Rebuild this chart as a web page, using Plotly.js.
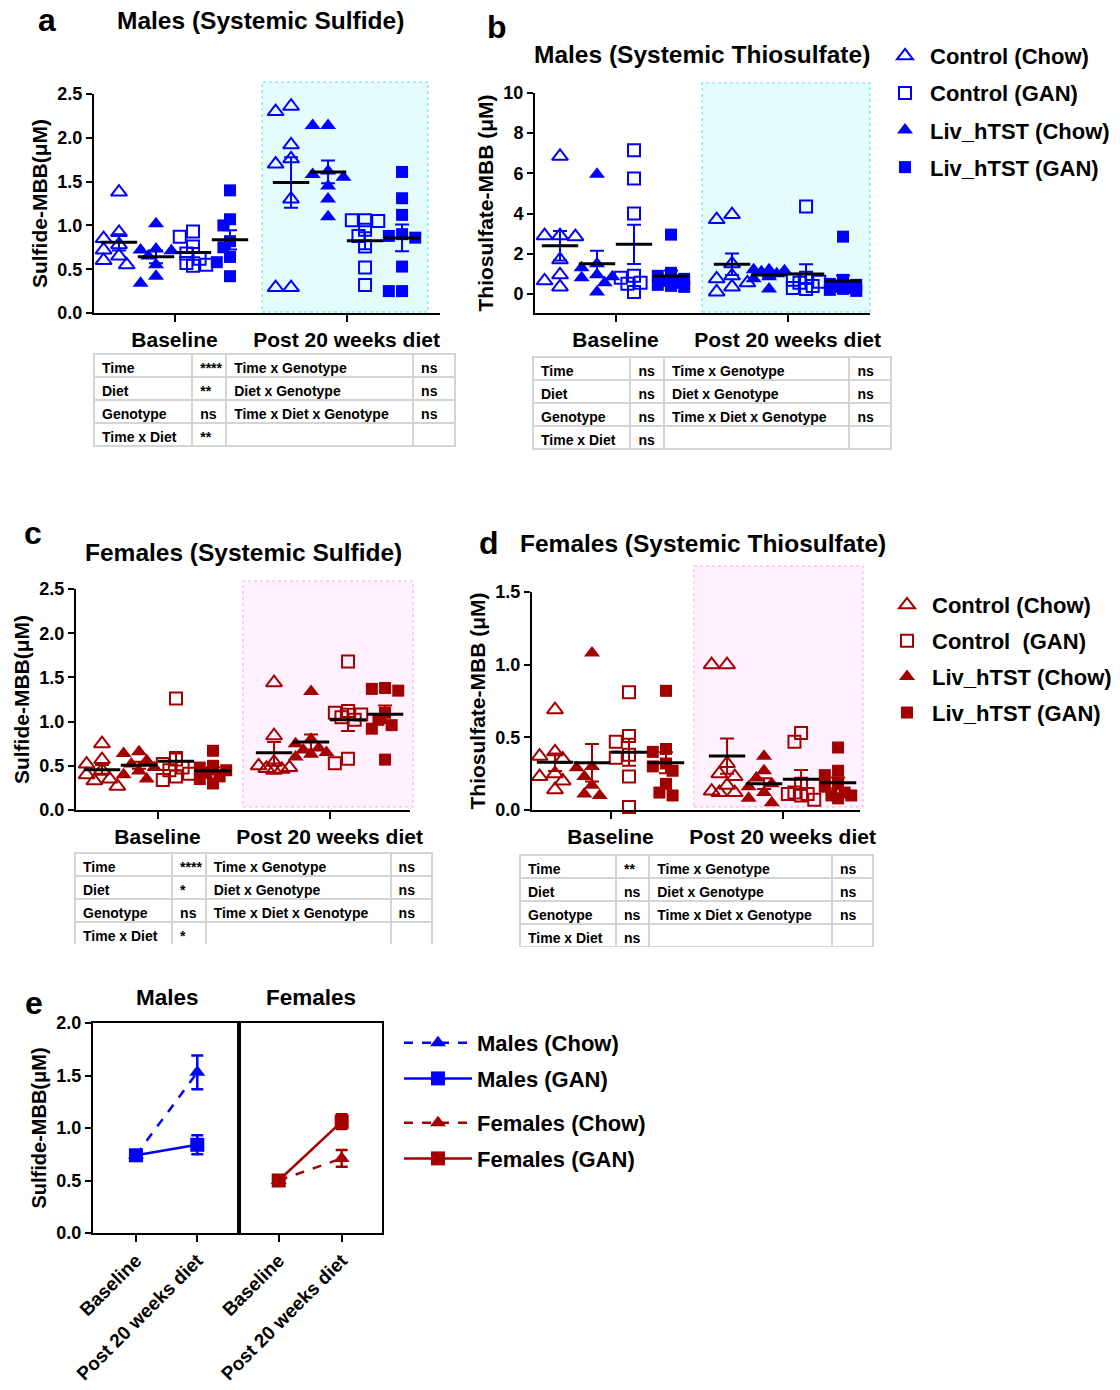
<!DOCTYPE html>
<html>
<head>
<meta charset="utf-8">
<script src="https://cdn.plot.ly/plotly-3.0.1.min.js"></script>
<style>html,body{margin:0;padding:0;background:#fff;}#chart{width:1120px;height:1390px;}</style>
</head>
<body>
<div id="chart"></div>
<script>
// ---------------- DATA ----------------
const groupNames = ['Control (Chow)', 'Liv_hTST (Chow)', 'Control (GAN)', 'Liv_hTST (GAN)'];
const timeLabels = ['Baseline', 'Post 20 weeks diet'];

// a: Males (Systemic Sulfide)
const mSulf_base_ctrlChow = [1.38, 0.92, 0.85, 0.78, 0.72, 0.65, 0.60, 0.55];
const mSulf_base_livChow  = [1.02, 0.73, 0.72, 0.71, 0.65, 0.55, 0.42, 0.34];
const mSulf_base_ctrlGAN  = [0.93, 0.87, 0.76, 0.68, 0.62, 0.57, 0.55, 0.54];
const mSulf_base_livGAN   = [1.40, 1.07, 1.00, 0.82, 0.75, 0.64, 0.58, 0.42];
const mSulf_post_ctrlChow = [2.36, 2.30, 1.92, 1.76, 1.70, 1.30, 0.29, 0.29];
const mSulf_post_livChow  = [2.14, 2.14, 1.62, 1.58, 1.55, 1.45, 1.30, 1.10];
const mSulf_post_ctrlGAN  = [1.06, 1.06, 1.05, 0.95, 0.88, 0.76, 0.52, 0.32];
const mSulf_post_livGAN   = [1.61, 1.31, 1.12, 0.90, 0.88, 0.86, 0.53, 0.25, 0.25];

// b: Males (Systemic Thiosulfate)
const mThio_base_ctrlChow = [6.85, 2.90, 2.90, 2.85, 1.70, 0.95, 0.65, 0.35];
const mThio_base_livChow  = [5.95, 1.50, 1.30, 0.95, 0.85, 0.80, 0.55, 0.10];
const mThio_base_ctrlGAN  = [7.15, 5.75, 4.00, 0.90, 0.80, 0.55, 0.50, 0.10];
const mThio_base_livGAN   = [2.95, 1.05, 0.90, 0.75, 0.65, 0.55, 0.45, 0.40, 0.35];
const mThio_post_ctrlChow = [3.95, 3.70, 1.50, 0.90, 0.75, 0.55, 0.35, 0.10];
const mThio_post_livChow  = [1.20, 1.20, 1.15, 1.10, 1.00, 0.85, 0.75, 0.25];
const mThio_post_ctrlGAN  = [4.35, 0.80, 0.70, 0.60, 0.55, 0.40, 0.30, 0.25];
const mThio_post_livGAN   = [2.85, 0.70, 0.50, 0.45, 0.35, 0.30, 0.25, 0.20, 0.15];

// c: Females (Systemic Sulfide)
const fSulf_base_ctrlChow = [0.75, 0.57, 0.52, 0.45, 0.40, 0.35, 0.33, 0.27];
const fSulf_base_livChow  = [0.66, 0.64, 0.56, 0.52, 0.48, 0.44, 0.40, 0.35];
const fSulf_base_ctrlGAN  = [1.26, 0.57, 0.52, 0.48, 0.45, 0.41, 0.38, 0.34];
const fSulf_base_livGAN   = [0.67, 0.50, 0.48, 0.45, 0.42, 0.38, 0.35, 0.30];
const fSulf_post_ctrlChow = [1.44, 0.84, 0.54, 0.50, 0.48, 0.47, 0.46, 0.45];
const fSulf_post_livChow  = [1.34, 0.80, 0.75, 0.70, 0.68, 0.65, 0.63, 0.60];
const fSulf_post_ctrlGAN  = [1.68, 1.12, 1.10, 1.08, 1.05, 1.02, 0.58, 0.53];
const fSulf_post_livGAN   = [1.38, 1.37, 1.35, 1.10, 1.02, 0.96, 0.92, 0.57];

// d: Females (Systemic Thiosulfate)
const fThio_base_ctrlChow = [0.69, 0.40, 0.37, 0.35, 0.25, 0.23, 0.20, 0.14];
const fThio_base_livChow  = [1.08, 0.30, 0.29, 0.23, 0.17, 0.11, 0.10];
const fThio_base_ctrlGAN  = [0.81, 0.51, 0.47, 0.38, 0.36, 0.23, 0.02];
const fThio_base_livGAN   = [0.82, 0.42, 0.40, 0.32, 0.30, 0.27, 0.18, 0.12, 0.10];
const fThio_post_ctrlChow = [1.00, 1.00, 0.32, 0.25, 0.23, 0.17, 0.13, 0.12, 0.12];
const fThio_post_livChow  = [0.37, 0.27, 0.22, 0.18, 0.16, 0.12, 0.08, 0.05];
const fThio_post_ctrlGAN  = [0.53, 0.47, 0.18, 0.12, 0.11, 0.11, 0.10, 0.07];
const fThio_post_livGAN   = [0.43, 0.27, 0.24, 0.18, 0.16, 0.12, 0.10, 0.10, 0.08];

// e: summary (mean, SEM)
const maleChowMean = [0.74, 1.53], maleChowSem = [0.03, 0.16];
const maleGanMean  = [0.74, 0.84], maleGanSem  = [0.03, 0.09];
const femChowMean  = [0.50, 0.71], femChowSem  = [0.02, 0.08];
const femGanMean   = [0.50, 1.06], femGanSem   = [0.02, 0.07];

// statistics tables
const factorsLeft  = ['Time', 'Diet', 'Genotype', 'Time x Diet'];
const factorsRight = ['Time x Genotype', 'Diet x Genotype', 'Time x Diet x Genotype', ''];
const sigA_left = ['****', '**', 'ns', '**'],  sigA_right = ['ns', 'ns', 'ns', ''];
const sigB_left = ['ns', 'ns', 'ns', 'ns'],    sigB_right = ['ns', 'ns', 'ns', ''];
const sigC_left = ['****', '*', 'ns', '*'],    sigC_right = ['ns', 'ns', 'ns', ''];
const sigD_left = ['**', 'ns', 'ns', 'ns'],    sigD_right = ['ns', 'ns', 'ns', ''];

// ---------------- LAYOUT HELPERS ----------------
const W = 1120, H = 1390;
const FONT = 'Liberation Sans, Arial, sans-serif';
const BLUE = '#0000ff', RED = '#a30000';
const px = v => v / W, py = v => 1 - v / H;
const PXX = 37;                         // px per x-unit in scatter panels
const groupPos = [1, 2, 3, 4, 5.65, 6.65, 7.65, 8.65];
const catTicks = [2.5, 7.15];

const symbols = ['triangle-up-open', 'triangle-up', 'square-open', 'square'];
const sizes = [14, 14, 12, 12];
const legendRank = [1, 3, 2, 4];

function mean(a) { return a.reduce((s, v) => s + v, 0) / a.length; }
function sem(a) {
  const m = mean(a);
  const sd = Math.sqrt(a.reduce((s, v) => s + (v - m) * (v - m), 0) / (a.length - 1));
  return sd / Math.sqrt(a.length);
}
// compact beeswarm: horizontal offsets (data units), overlaps allowed when crowded
function swarm(vals, pxPerY, diam) {
  const idx = vals.map((v, i) => i).sort((a, b) => vals[b] - vals[a]);
  const placed = [], off = new Array(vals.length).fill(0);
  const step = diam * 0.55, thr = diam * 0.75, maxSteps = 4;
  idx.forEach(i => {
    const y = vals[i] * pxPerY;
    let chosen = null, best = -1, bestC = 0;
    for (let s = 0; s <= maxSteps; s++) {
      const c = s === 0 ? 0 : (s % 2 ? -1 : 1) * Math.ceil(s / 2) * step;
      const dmin = placed.length ? Math.min.apply(null, placed.map(p => Math.hypot(p.x - c, p.y - y))) : 1e9;
      if (dmin >= thr) { chosen = c; break; }
      if (dmin > best) { best = dmin; bestC = c; }
    }
    if (chosen === null) chosen = bestC;
    placed.push({ x: chosen, y: y });
    off[i] = chosen / PXX;
  });
  return off;
}

const panels = [
  { key: 'a', xa: 'x', ya: 'y', xd: [94, 440], yd: [94, 313], yr: [0, 2.5], dtick: 0.5, fmt: '.1f',
    first: 119, shade: [262, 428, 82, 312], shadeFill: 'rgba(0,225,235,0.10)', shadeLine: 'rgba(0,220,230,0.45)',
    color: BLUE, ytitle: 'Sulfide-MBB(μM)', legend: 'legend', showLeg: true,
    base: [mSulf_base_ctrlChow, mSulf_base_livChow, mSulf_base_ctrlGAN, mSulf_base_livGAN],
    post: [mSulf_post_ctrlChow, mSulf_post_livChow, mSulf_post_ctrlGAN, mSulf_post_livGAN] },
  { key: 'b', xa: 'x2', ya: 'y2', xd: [535, 870], yd: [93, 313], yr: [-0.95, 10], dtick: 2, fmt: 'd',
    first: 560, shade: [702, 870, 83, 312], shadeFill: 'rgba(0,225,235,0.10)', shadeLine: 'rgba(0,220,230,0.45)',
    color: BLUE, ytitle: 'Thiosulfate-MBB (μM)', legend: 'legend', showLeg: false,
    base: [mThio_base_ctrlChow, mThio_base_livChow, mThio_base_ctrlGAN, mThio_base_livGAN],
    post: [mThio_post_ctrlChow, mThio_post_livChow, mThio_post_ctrlGAN, mThio_post_livGAN] },
  { key: 'c', xa: 'x3', ya: 'y3', xd: [76, 410], yd: [589, 810], yr: [0, 2.5], dtick: 0.5, fmt: '.1f',
    first: 102, shade: [243, 413, 581, 807], shadeFill: 'rgba(255,60,230,0.07)', shadeLine: 'rgba(255,120,230,0.45)',
    color: RED, ytitle: 'Sulfide-MBB(μM)', legend: 'legend2', showLeg: true,
    base: [fSulf_base_ctrlChow, fSulf_base_livChow, fSulf_base_ctrlGAN, fSulf_base_livGAN],
    post: [fSulf_post_ctrlChow, fSulf_post_livChow, fSulf_post_ctrlGAN, fSulf_post_livGAN] },
  { key: 'd', xa: 'x4', ya: 'y4', xd: [532, 860], yd: [592, 810], yr: [0, 1.5], dtick: 0.5, fmt: '.1f',
    first: 555, shade: [694, 863, 566, 807], shadeFill: 'rgba(255,60,230,0.07)', shadeLine: 'rgba(255,120,230,0.45)',
    color: RED, ytitle: 'Thiosulfate-MBB (μM)', legend: 'legend2', showLeg: false,
    base: [fThio_base_ctrlChow, fThio_base_livChow, fThio_base_ctrlGAN, fThio_base_livGAN],
    post: [fThio_post_ctrlChow, fThio_post_livChow, fThio_post_ctrlGAN, fThio_post_livGAN] }
];

const traces = [];
const layout = {
  width: W, height: H, margin: { l: 0, r: 0, t: 0, b: 0 },
  paper_bgcolor: '#fff', plot_bgcolor: 'rgba(0,0,0,0)',
  font: { family: FONT, color: '#000', weight: 'bold' },
  showlegend: true, shapes: [], annotations: []
};

const tickFont = { family: FONT, size: 18, color: '#000', weight: 'bold' };

panels.forEach((p, pi) => {
  const pxPerY = (p.yd[1] - p.yd[0]) / (p.yr[1] - p.yr[0]);
  const r0 = 1 - (p.first - p.xd[0]) / PXX;
  const r1 = r0 + (p.xd[1] - p.xd[0]) / PXX;
  const xname = 'xaxis' + (pi === 0 ? '' : pi + 1), yname = 'yaxis' + (pi === 0 ? '' : pi + 1);
  layout[xname] = {
    domain: [px(p.xd[0]), px(p.xd[1])], range: [r0, r1], anchor: p.ya,
    showline: true, linecolor: '#000', linewidth: 2, showgrid: false, zeroline: false,
    ticks: 'outside', ticklen: 7, tickwidth: 2, tickcolor: '#000',
    tickvals: catTicks, ticktext: timeLabels,
    tickfont: { family: FONT, size: 21, color: '#000', weight: 'bold' }
  };
  layout[yname] = {
    domain: [py(p.yd[1]), py(p.yd[0])], range: p.yr, anchor: p.xa,
    showline: true, linecolor: '#000', linewidth: 2, showgrid: false, zeroline: false,
    ticks: 'outside', ticklen: 6, tickwidth: 2, tickcolor: '#000',
    tick0: 0, dtick: p.dtick, tickformat: p.fmt, tickfont: tickFont,
    title: { text: p.ytitle, font: { family: FONT, size: 21, color: '#000', weight: 'bold' }, standoff: 4 }
  };
  layout.shapes.push({
    type: 'rect', xref: 'paper', yref: 'paper', layer: 'below',
    x0: px(p.shade[0]), x1: px(p.shade[1]), y0: py(p.shade[3]), y1: py(p.shade[2]),
    fillcolor: p.shadeFill, line: { color: p.shadeLine, width: 1.5, dash: 'dot' }
  });
  // points
  for (let g = 0; g < 4; g++) {
    const diam = sizes[g];
    const ob = swarm(p.base[g], pxPerY, diam), op = swarm(p.post[g], pxPerY, diam);
    const xs = p.base[g].map((v, i) => groupPos[g] + ob[i]).concat(p.post[g].map((v, i) => groupPos[g + 4] + op[i]));
    const open = symbols[g].indexOf('open') >= 0;
    traces.push({
      type: 'scatter', mode: 'markers', xaxis: p.xa, yaxis: p.ya,
      x: xs, y: p.base[g].concat(p.post[g]),
      name: (p.legend === 'legend2' && g === 2) ? 'Control\u00a0 (GAN)' : groupNames[g],
      legend: p.legend, showlegend: p.showLeg, legendgroup: p.legend + g, legendrank: legendRank[g],
      marker: { symbol: symbols[g], size: sizes[g], color: p.color,
                line: { color: p.color, width: open ? 2 : 0 } },
      cliponaxis: false, hoverinfo: 'skip'
    });
  }
  // mean + SEM
  const all = p.base.concat(p.post);
  traces.push({
    type: 'scatter', mode: 'markers', xaxis: p.xa, yaxis: p.ya, showlegend: false,
    x: groupPos, y: all.map(mean),
    error_y: { type: 'data', array: all.map(sem), visible: true, color: p.color, thickness: 2, width: 7 },
    marker: { symbol: 'line-ew', size: 26, color: '#000', line: { color: '#000', width: 3 } },
    cliponaxis: false, hoverinfo: 'skip'
  });
});

// ---------------- PANEL e ----------------
const eY = [1023, 1233];
const eTickFont = { family: FONT, size: 19, color: '#000', weight: 'bold' };
layout.xaxis5 = {
  domain: [px(93), px(239)], range: [-0.7, 1.68], anchor: 'y5',
  showline: true, mirror: true, linecolor: '#000', linewidth: 2, showgrid: false, zeroline: false,
  ticks: 'outside', ticklen: 7, tickwidth: 2, tickcolor: '#000',
  tickvals: [0, 1], ticktext: timeLabels, tickangle: -45, tickfont: eTickFont
};
layout.yaxis5 = {
  domain: [py(eY[1]), py(eY[0])], range: [0, 2], anchor: 'x5',
  showline: true, mirror: true, linecolor: '#000', linewidth: 2, showgrid: false, zeroline: false,
  ticks: 'outside', ticklen: 6, tickwidth: 2, tickcolor: '#000', dtick: 0.5, tickformat: '.1f',
  tickfont: tickFont,
  title: { text: 'Sulfide-MBB(μM)', font: { family: FONT, size: 20, color: '#000', weight: 'bold' }, standoff: 4 }
};
layout.xaxis6 = {
  domain: [px(239), px(382)], range: [-0.63, 1.64], anchor: 'y6',
  showline: true, mirror: true, linecolor: '#000', linewidth: 2, showgrid: false, zeroline: false,
  ticks: 'outside', ticklen: 7, tickwidth: 2, tickcolor: '#000',
  tickvals: [0, 1], ticktext: timeLabels, tickangle: -45, tickfont: eTickFont
};
layout.yaxis6 = {
  domain: [py(eY[1]), py(eY[0])], range: [0, 2], anchor: 'x6',
  showline: true, mirror: true, linecolor: '#000', linewidth: 2, showgrid: false, zeroline: false,
  ticks: '', showticklabels: false
};
const eSeries = [
  { n: 'Males (Chow)', m: maleChowMean, s: maleChowSem, c: BLUE, dash: 'dash', sym: 'triangle-up', sz: 14, xa: 'x5', ya: 'y5', lg: 'legend3' },
  { n: 'Males (GAN)', m: maleGanMean, s: maleGanSem, c: BLUE, dash: 'solid', sym: 'square', sz: 14, xa: 'x5', ya: 'y5', lg: 'legend3' },
  { n: 'Females (Chow)', m: femChowMean, s: femChowSem, c: RED, dash: 'dash', sym: 'triangle-up', sz: 14, xa: 'x6', ya: 'y6', lg: 'legend4' },
  { n: 'Females (GAN)', m: femGanMean, s: femGanSem, c: RED, dash: 'solid', sym: 'square', sz: 14, xa: 'x6', ya: 'y6', lg: 'legend4' }
];
eSeries.forEach((s, i) => {
  traces.push({
    type: 'scatter', mode: 'lines+markers', xaxis: s.xa, yaxis: s.ya, x: [0, 1], y: s.m,
    name: s.n, legend: s.lg, legendgroup: 'e' + i,
    line: { color: s.c, width: 2.5, dash: s.dash },
    marker: { symbol: s.sym, size: s.sz, color: s.c },
    error_y: { type: 'data', array: s.s, visible: true, color: s.c, thickness: 2.5, width: 6 },
    cliponaxis: false, hoverinfo: 'skip'
  });
});

// ---------------- LEGENDS ----------------
const legFont = { family: FONT, size: 22, color: '#000', weight: 'bold' };
layout.legend  = { x: px(880), y: py(35), xanchor: 'left', yanchor: 'top', font: legFont, tracegroupgap: 5.5, bgcolor: 'rgba(0,0,0,0)', itemwidth: 40 };
layout.legend2 = { x: px(882), y: py(584), xanchor: 'left', yanchor: 'top', font: legFont, tracegroupgap: 4.3, bgcolor: 'rgba(0,0,0,0)', itemwidth: 40 };
layout.legend3 = { x: px(399), y: py(1022), xanchor: 'left', yanchor: 'top', font: legFont, tracegroupgap: 4, bgcolor: 'rgba(0,0,0,0)', itemwidth: 68 };
layout.legend4 = { x: px(399), y: py(1102), xanchor: 'left', yanchor: 'top', font: legFont, tracegroupgap: 4, bgcolor: 'rgba(0,0,0,0)', itemwidth: 68 };

// ---------------- TABLES ----------------
const tables = [
  { xd: [94, 455], yd: [354, 448], l: sigA_left, r: sigA_right },
  { xd: [533, 892], yd: [357, 450], l: sigB_left, r: sigB_right },
  { xd: [75, 432], yd: [853, 945], l: sigC_left, r: sigC_right },
  { xd: [520, 873], yd: [855, 947], l: sigD_left, r: sigD_right }
];
const tblFont = { family: FONT, size: 14, color: '#000', weight: 'bold' };
tables.forEach(t => {
  const cols = [factorsLeft, t.l, factorsRight, t.r];
  const w = t.xd[1] - t.xd[0];
  traces.push({
    type: 'table', domain: { x: [px(t.xd[0]), px(t.xd[1])], y: [py(t.yd[1]), py(t.yd[0])] },
    columnwidth: [0.272 * w, 0.094 * w, 0.518 * w, 0.116 * w],
    header: { values: cols.map(c => c[0]), align: 'left', height: 23, font: tblFont,
              fill: { color: '#fff' }, line: { color: '#d4d4d4', width: 2 } },
    cells: { values: cols.map(c => c.slice(1)), align: 'left', height: 23, font: tblFont,
             fill: { color: '#fff' }, line: { color: '#d4d4d4', width: 2 } }
  });
});

// ---------------- TEXT ----------------
function ann(text, x, y, size, anchor) {
  layout.annotations.push({ text: text, xref: 'paper', yref: 'paper', x: px(x), y: py(y),
    xanchor: anchor || 'center', yanchor: 'middle', showarrow: false,
    font: { family: FONT, size: size, color: '#000', weight: 'bold' } });
}
ann('a', 47, 20, 32); ann('b', 497, 27, 32); ann('c', 33, 533, 32); ann('d', 489, 543, 32); ann('e', 34, 1003, 32);
ann('Males (Systemic Sulfide)', 260, 20, 24.5);
ann('Males (Systemic Thiosulfate)', 702, 55, 24.5);
ann('Females (Systemic Sulfide)', 243, 552, 24.5);
ann('Females (Systemic Thiosulfate)', 703, 543, 24.5);
ann('Males', 167, 998, 22.5);
ann('Females', 311, 998, 22.5);

Plotly.newPlot('chart', traces, layout, { displayModeBar: false, staticPlot: true });
</script>
</body>
</html>
